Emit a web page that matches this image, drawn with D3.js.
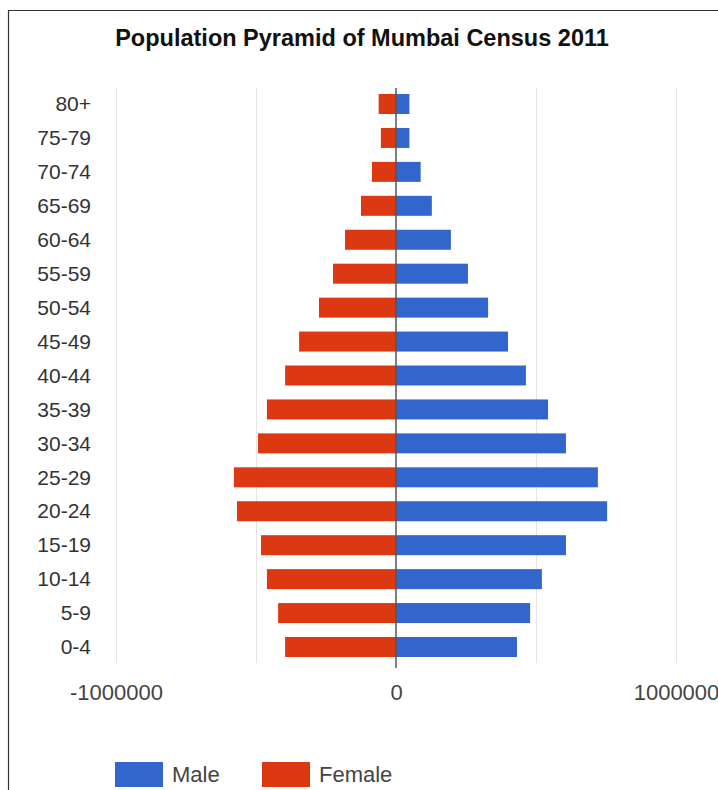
<!DOCTYPE html>
<html>
<head>
<meta charset="utf-8">
<script src="https://cdn.jsdelivr.net/npm/d3@7"></script>
<style>
  body { margin: 0; background: #fff; }
  text { font-family: "Liberation Sans", Arial, sans-serif; }
</style>
</head>
<body>
<svg id="chart" width="718" height="790"></svg>
<script>
var ages = ["80+","75-79","70-74","65-69","60-64","55-59","50-54","45-49",
            "40-44","35-39","30-34","25-29","20-24","15-19","10-14","5-9","0-4"];

var male = [48000, 48000, 88000, 128000, 196000, 257000, 329000, 400000,
            464000, 543000, 607000, 721000, 754000, 607000, 521000, 479000, 432000];

var female = [62000, 54000, 86000, 125000, 182000, 225000, 275000, 346000,
              396000, 461000, 493000, 579000, 568000, 482000, 461000, 421000, 396000];

var tickVals = [-1000000, 0, 1000000];
var legendKeys = ["Male", "Female"];
var colors = {Male: "#3366cc", Female: "#dc3912"};

var svg = d3.select("#chart");

// frame
svg.append("line").attr("x1", 8).attr("x2", 718).attr("y1", 10.5).attr("y2", 10.5)
  .attr("stroke", "#333").attr("stroke-width", 1.2);
svg.append("line").attr("x1", 8.5).attr("x2", 8.5).attr("y1", 10).attr("y2", 790)
  .attr("stroke", "#333").attr("stroke-width", 1.2);

svg.append("text")
  .attr("x", 362).attr("y", 46)
  .attr("text-anchor", "middle")
  .attr("font-size", 23.5).attr("font-weight", "bold").attr("fill", "#111")
  .text("Population Pyramid of Mumbai Census 2011");

var x = d3.scaleLinear().domain([-1000000, 1000000]).range([116, 676]);
var y = d3.scalePoint().domain(ages).range([104, 647]);
var barH = 20;

// gridlines
var grid = svg.append("g")
  .attr("transform", "translate(0,663)")
  .call(d3.axisBottom(x).tickValues([-1000000, -500000, 500000, 1000000]).tickSize(575).tickFormat(""));
grid.select(".domain").remove();
grid.selectAll(".tick line").attr("stroke", "#e4e4e4").attr("transform", "translate(0,-575)");

// bars
svg.selectAll("rect.male")
  .data(male)
  .enter()
  .append("rect")
  .attr("class", "male")
  .attr("x", x(0))
  .attr("y", function(d, i){ return y(ages[i]) - barH/2; })
  .attr("width", function(d){ return x(d) - x(0); })
  .attr("height", barH)
  .attr("fill", colors.Male);

svg.selectAll("rect.female")
  .data(female)
  .enter()
  .append("rect")
  .attr("class", "female")
  .attr("x", function(d){ return x(-d); })
  .attr("y", function(d, i){ return y(ages[i]) - barH/2; })
  .attr("width", function(d){ return x(0) - x(-d); })
  .attr("height", barH)
  .attr("fill", colors.Female);

// zero line
svg.append("line")
  .attr("x1", x(0)).attr("x2", x(0))
  .attr("y1", 88).attr("y2", 668)
  .attr("stroke", "#555").attr("stroke-width", 1.5);

// category axis
var yAxis = svg.append("g")
  .attr("transform", "translate(91,0)")
  .call(d3.axisLeft(y).tickSize(0).tickPadding(0));
yAxis.select(".domain").remove();
yAxis.selectAll("text")
  .attr("font-size", 21).attr("fill", "#333")
  .attr("font-family", "Liberation Sans, Arial, sans-serif");

// value axis
var xAxis = svg.append("g")
  .attr("transform", "translate(0,700)")
  .call(d3.axisBottom(x).tickValues(tickVals).tickSize(0).tickPadding(0)
    .tickFormat(function(d){ return String(d); }));
xAxis.select(".domain").remove();
xAxis.selectAll("text")
  .attr("dy", 0)
  .attr("font-size", 22).attr("fill", "#444")
  .attr("font-family", "Liberation Sans, Arial, sans-serif");

// legend
var leg = svg.selectAll("g.legend")
  .data(legendKeys)
  .enter()
  .append("g")
  .attr("class", "legend")
  .attr("transform", function(d, i){ return "translate(" + (115 + i*147) + ",762)"; });
leg.append("rect").attr("width", 48).attr("height", 25)
  .attr("fill", function(d){ return colors[d]; });
leg.append("text").attr("x", 57).attr("y", 20)
  .attr("font-size", 22).attr("fill", "#444")
  .text(function(d){ return d; });
</script>
</body>
</html>
